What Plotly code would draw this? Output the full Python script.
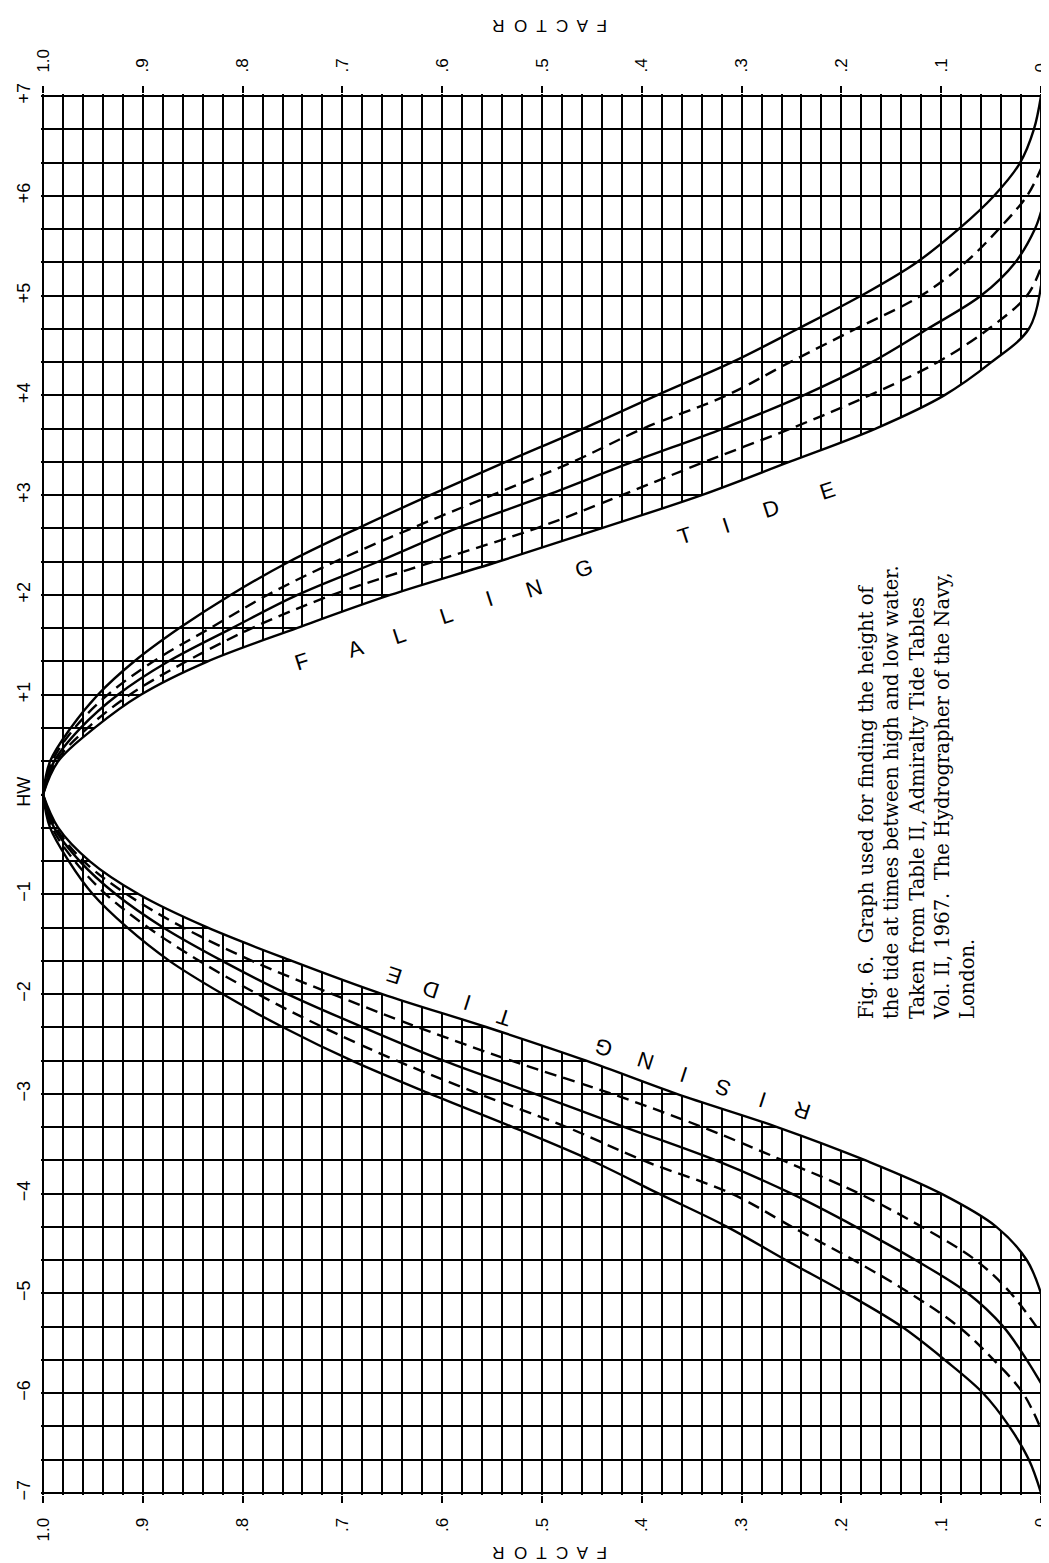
import plotly.graph_objects as go

# ---------------- data (hours relative to HW, factor) ----------------
hour_vals = [-7, -6, -5, -4, -3, -2, -1, 0, 1, 2, 3, 4, 5, 6, 7]
hour_text = ["\u22127", "\u22126", "\u22125", "\u22124", "\u22123", "\u22122", "\u22121", "HW",
             "+1", "+2", "+3", "+4", "+5", "+6", "+7"]
factor_vals = [0.0, 0.1, 0.2, 0.3, 0.4, 0.5, 0.6, 0.7, 0.8, 0.9, 1.0]
factor_text = ["0", ".1", ".2", ".3", ".4", ".5", ".6", ".7", ".8", ".9", "1.0"]

# Falling tide curves (A outermost ... E innermost)
fall_A_h = [0, 0.33, 0.67, 1.0, 1.33, 1.67, 2.0, 2.33, 2.67, 3.0, 3.33, 3.67, 4.0, 4.33, 4.67, 5.0, 5.33, 5.67, 6.0, 6.33, 6.67, 7.0]
fall_A_f = [1.0, 0.993, 0.972, 0.945, 0.909, 0.863, 0.812, 0.754, 0.684, 0.612, 0.537, 0.458, 0.385, 0.31, 0.243, 0.18, 0.125, 0.082, 0.047, 0.021, 0.007, 0.0]
fall_B_h = [0, 0.33, 0.67, 1.0, 1.33, 1.67, 2.0, 2.33, 2.67, 3.0, 3.33, 3.67, 4.0, 4.33, 4.67, 5.0, 5.33, 5.67, 6.0, 6.27]
fall_B_f = [1.0, 0.991, 0.968, 0.935, 0.89, 0.832, 0.775, 0.708, 0.63, 0.55, 0.47, 0.398, 0.315, 0.252, 0.185, 0.12, 0.076, 0.042, 0.014, 0.0]
fall_C_h = [0, 0.33, 0.67, 1.0, 1.33, 1.67, 2.0, 2.33, 2.67, 3.0, 3.33, 3.67, 4.0, 4.33, 4.67, 5.0, 5.33, 5.67, 5.84]
fall_C_f = [1.0, 0.989, 0.962, 0.925, 0.875, 0.81, 0.745, 0.665, 0.585, 0.495, 0.41, 0.318, 0.238, 0.17, 0.113, 0.06, 0.026, 0.006, 0.0]
fall_D_h = [0, 0.33, 0.67, 1.0, 1.33, 1.67, 2.0, 2.33, 2.67, 3.0, 3.33, 3.67, 4.0, 4.33, 4.67, 5.0, 5.28]
fall_D_f = [1.0, 0.987, 0.955, 0.913, 0.857, 0.79, 0.71, 0.61, 0.505, 0.42, 0.338, 0.25, 0.172, 0.104, 0.052, 0.014, 0.0]
fall_E_h = [0, 0.33, 0.67, 1.0, 1.33, 1.67, 2.0, 2.33, 2.67, 3.0, 3.33, 3.67, 4.0, 4.33, 4.67, 5.1]
fall_E_f = [1.0, 0.985, 0.948, 0.902, 0.836, 0.745, 0.652, 0.545, 0.44, 0.34, 0.253, 0.165, 0.097, 0.05, 0.012, 0.0]

# Rising tide curves (A outermost ... E innermost)
rise_A_h = [0, -0.33, -0.67, -1.0, -1.33, -1.67, -2.0, -2.33, -2.67, -3.0, -3.33, -3.67, -4.0, -4.33, -4.67, -5.0, -5.33, -5.67, -6.0, -6.33, -6.67, -7.0]
rise_A_f = [1.0, 0.993, 0.974, 0.95, 0.916, 0.873, 0.82, 0.76, 0.69, 0.612, 0.53, 0.45, 0.383, 0.315, 0.255, 0.195, 0.14, 0.096, 0.058, 0.032, 0.012, 0.0]
rise_B_h = [0, -0.33, -0.67, -1.0, -1.33, -1.67, -2.0, -2.33, -2.67, -3.0, -3.33, -3.67, -4.0, -4.33, -4.67, -5.0, -5.33, -5.67, -6.0, -6.36]
rise_B_f = [1.0, 0.991, 0.968, 0.937, 0.895, 0.843, 0.785, 0.72, 0.645, 0.563, 0.476, 0.398, 0.31, 0.25, 0.187, 0.131, 0.083, 0.047, 0.018, 0.0]
rise_C_h = [0, -0.33, -0.67, -1.0, -1.33, -1.67, -2.0, -2.33, -2.67, -3.0, -3.33, -3.67, -4.0, -4.33, -4.67, -5.0, -5.33, -5.67, -5.9]
rise_C_f = [1.0, 0.989, 0.963, 0.927, 0.88, 0.82, 0.755, 0.68, 0.598, 0.507, 0.418, 0.325, 0.25, 0.186, 0.125, 0.073, 0.038, 0.014, 0.0]
rise_D_h = [0, -0.33, -0.67, -1.0, -1.33, -1.67, -2.0, -2.33, -2.67, -3.0, -3.33, -3.67, -4.0, -4.33, -4.67, -5.0, -5.4]
rise_D_f = [1.0, 0.987, 0.959, 0.916, 0.86, 0.79, 0.71, 0.625, 0.53, 0.43, 0.34, 0.258, 0.182, 0.12, 0.065, 0.03, 0.0]
rise_E_h = [0, -0.33, -0.67, -1.0, -1.33, -1.67, -2.0, -2.33, -2.67, -3.0, -3.33, -3.67, -4.0, -4.33, -4.67, -5.0]
rise_E_f = [1.0, 0.985, 0.953, 0.904, 0.836, 0.75, 0.66, 0.556, 0.455, 0.365, 0.265, 0.175, 0.10, 0.045, 0.014, 0.0]

caption_lines = [
    "Fig. 6.  Graph used for finding the height of",
    "the tide at times between high and low water.",
    "Taken from Table II, Admiralty Tide Tables",
    "Vol. II, 1967.  The Hydrographer of the Navy,",
    "London.",
]

# ---------------- layout geometry ----------------
W, H = 1049, 1563
ML, MR, MT, MB = 33, 6, 86, 76
XR = [1.002, -0.002]
YR = [-7.02, 7.02]
PW, PH = W - ML - MR, H - MT - MB


def px_to_data(px, py):
    f = XR[0] + (px - ML) / PW * (XR[1] - XR[0])
    h = YR[1] - (py - MT) / PH * (YR[1] - YR[0])
    return f, h


def px_to_paper(px, py):
    return (px - ML) / PW, (H - MB - py) / PH


fig = go.Figure()

LW = 2.4
DASH = "12px,7px"
SM = 1.0

# blank lobe between the innermost curves and the zero-factor edge
lobe_f = fall_E_f[::-1] + rise_E_f[1:]
lobe_h = fall_E_h[::-1] + rise_E_h[1:]
fig.add_trace(go.Scatter(x=lobe_f, y=lobe_h, mode="lines", fill="toself", fillcolor="white",
                         line=dict(color="rgba(0,0,0,0)", width=0, shape="spline", smoothing=SM),
                         hoverinfo="skip", showlegend=False))

curves = [
    (fall_A_h, fall_A_f, "solid"), (fall_B_h, fall_B_f, DASH), (fall_C_h, fall_C_f, "solid"),
    (fall_D_h, fall_D_f, DASH), (fall_E_h, fall_E_f, "solid"),
    (rise_A_h, rise_A_f, "solid"), (rise_B_h, rise_B_f, DASH), (rise_C_h, rise_C_f, "solid"),
    (rise_D_h, rise_D_f, DASH), (rise_E_h, rise_E_f, "solid"),
]
for hh, ff, dash in curves:
    fig.add_trace(go.Scatter(x=ff, y=hh, mode="lines",
                             line=dict(color="black", width=LW, dash=dash, shape="spline", smoothing=SM),
                             hoverinfo="skip", showlegend=False))

# invisible trace to activate the top factor axis
fig.add_trace(go.Scatter(x=[0.5], y=[0], xaxis="x2", mode="markers",
                         marker=dict(opacity=0), hoverinfo="skip", showlegend=False))

tickfont = dict(family="Liberation Sans, Arial, sans-serif", size=17, color="black")

fig.update_layout(
    width=W, height=H,
    margin=dict(l=ML, r=MR, t=MT, b=MB),
    paper_bgcolor="white", plot_bgcolor="white",
    showlegend=False,
    xaxis=dict(range=XR, tickvals=factor_vals, ticktext=factor_text, tickangle=-90,
               ticks="outside", ticklen=7, tickwidth=2, tickcolor="black",
               showgrid=True, gridcolor="black", gridwidth=2,
               minor=dict(dtick=0.02, tick0=0, showgrid=True, gridcolor="black", gridwidth=1.8, ticks=""),
               zeroline=False, showline=False, tickfont=tickfont, ticklabelstandoff=8,
               ticklabeloverflow="allow"),
    xaxis2=dict(range=XR, overlaying="x", side="top", tickvals=factor_vals, ticktext=factor_text,
                tickangle=-90, ticks="outside", ticklen=7, tickwidth=2, tickcolor="black",
                showgrid=False, zeroline=False, showline=False, tickfont=tickfont, ticklabelstandoff=10,
                ticklabeloverflow="allow"),
    yaxis=dict(range=YR, tickvals=hour_vals, ticktext=hour_text, tickangle=-90,
               ticks="", showgrid=True, gridcolor="black", gridwidth=2,
               minor=dict(dtick=1 / 3, tick0=0, showgrid=True, gridcolor="black", gridwidth=1.8, ticks=""),
               zeroline=False, showline=False,
               tickfont=dict(family="Liberation Sans, Arial, sans-serif", size=18, color="black"),
               ticklabelstandoff=6, ticklabeloverflow="allow"),
)

annotations = []
letter_font = dict(family="Liberation Sans, Arial, sans-serif", size=22, color="black")

# FALLING TIDE lettering
fall_letters = ["F", "A", "L", "L", "I", "N", "G", "T", "I", "D", "E"]
fall_pos = [(296, 653), (350, 640), (394, 627), (441, 607), (485, 590), (530, 580), (580, 560),
            (682, 527), (723, 517), (769, 500), (826, 482)]
for ch, (px, py) in zip(fall_letters, fall_pos):
    fx, hy = px_to_data(px, py)
    annotations.append(dict(x=fx, y=hy, xref="x", yref="y", text=ch, showarrow=False, textangle=-18,
                            xanchor="center", yanchor="middle", font=letter_font))

# RISING TIDE lettering (upside down)
rise_letters = ["R", "I", "S", "I", "N", "G", "T", "I", "D", "E"]
rise_pos = [(800, 1103), (760, 1092), (720, 1080), (681, 1067), (642, 1053), (600, 1040),
            (500, 1010), (463, 995), (426, 982), (389, 968)]
for ch, (px, py) in zip(rise_letters, rise_pos):
    fx, hy = px_to_data(px, py)
    annotations.append(dict(x=fx, y=hy, xref="x", yref="y", text=ch, showarrow=False, textangle=-162,
                            xanchor="center", yanchor="middle", font=letter_font))

# FACTOR axis titles
for py in (18, 1545):
    ax_, ay_ = px_to_paper(545, py)
    annotations.append(dict(x=ax_, y=ay_, xref="paper", yref="paper", text="F  A  C  T  O  R",
                            showarrow=False, textangle=180, xanchor="center", yanchor="middle",
                            font=dict(family="Liberation Sans, Arial, sans-serif", size=17, color="black")))

# Caption (rotated, reading upward)
cx, cy = px_to_paper(916, 785)
annotations.append(dict(x=cx, y=cy, xref="paper", yref="paper", text="<br>".join(caption_lines),
                        showarrow=False, textangle=-90, align="left", xanchor="center", yanchor="middle",
                        font=dict(family="DejaVu Serif, serif", size=19.5, color="black")))

fig.update_layout(annotations=annotations)

fig.write_html("out.html")
